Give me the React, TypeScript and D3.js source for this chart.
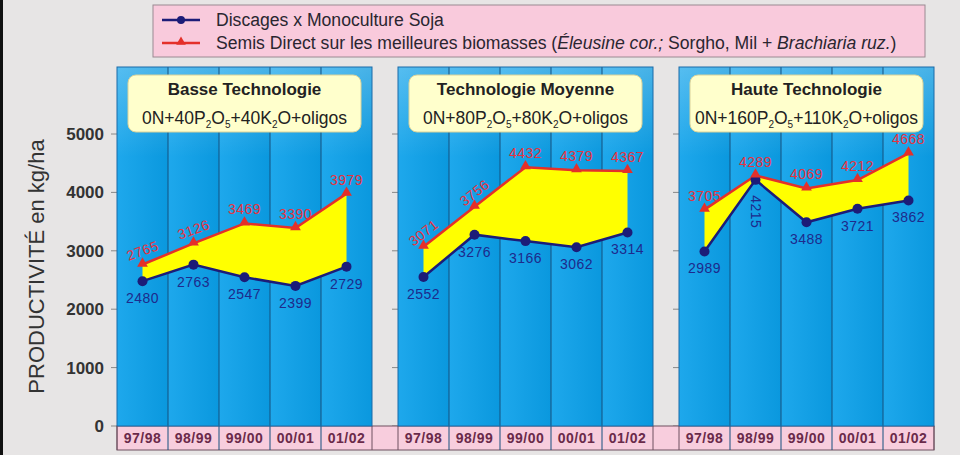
import React from "react";
import * as d3 from "d3";

// ---------- data ----------
const periods = ["97/98", "98/99", "99/00", "00/01", "01/02"];
const panelTitles = ["Basse Technologie", "Technologie Moyenne", "Haute Technologie"];
const pDoses = ["40", "80", "160"];
const kDoses = ["40", "80", "110"];
const discagesSoja = [
  [2480, 2763, 2547, 2399, 2729],
  [2552, 3276, 3166, 3062, 3314],
  [2989, 4215, 3488, 3721, 3862],
];
const semisDirect = [
  [2765, 3126, 3469, 3390, 3979],
  [3071, 3756, 4432, 4379, 4367],
  [3705, 4289, 4069, 4212, 4668],
];
const yTicks = [0, 1000, 2000, 3000, 4000, 5000];
const legendLabels = ["Discages x Monoculture Soja"];

// label rotation styles (degrees) per panel / point
const redRot = [
  [-20, -20, 0, 0, 0],
  [-38, -38, 0, 0, 0],
  [0, 0, 0, 0, 0],
];
const blueRot = [
  [0, 0, 0, 0, 0],
  [0, 0, 0, 0, 0],
  [0, 90, 0, 0, 0],
];

const FONT = "'Liberation Sans', Arial, Helvetica, sans-serif";
const W = 960;
const H = 455;
const PANEL_TOP = 67;
const STRIP_H = 24;

export default function App() {
  const y = d3.scaleLinear().domain([0, 5000]).range([426, 134]);
  const panelScale = d3
    .scaleBand<number>()
    .domain([0, 1, 2])
    .range([117, 934])
    .paddingInner(26 / 281)
    .paddingOuter(0);
  const pw = panelScale.bandwidth();
  const y0 = y(0);

  const blueCol = "#1c1c78";
  const redCol = "#e4302a";

  return (
    <svg
      width={W}
      height={H}
      viewBox={`0 0 ${W} ${H}`}
      style={{ position: "absolute", left: 0, top: 0, fontFamily: FONT }}
    >
      <defs>
        <linearGradient id="colGrad" x1="0" x2="1" y1="0" y2="0">
          <stop offset="0%" stopColor="#1ea8ec" />
          <stop offset="100%" stopColor="#0a98de" />
        </linearGradient>
        <linearGradient id="topGrad" x1="0" x2="0" y1="0" y2="1">
          <stop offset="0%" stopColor="#ffffff" stopOpacity={0.25} />
          <stop offset="100%" stopColor="#ffffff" stopOpacity={0} />
        </linearGradient>
      </defs>
      <rect x={0} y={0} width={W} height={H} fill="#e7e5e5" />
      <rect x={0} y={0} width={3} height={H} fill="#111" />

      {/* legend */}
      <rect x={153} y={5} width={772} height={52} fill="#f9cadc" stroke="#9a8a92" strokeWidth={1} />
      <line x1={162} x2={200} y1={20} y2={20} stroke={blueCol} strokeWidth={2.5} />
      <circle cx={181} cy={20} r={4} fill={blueCol} />
      <line x1={162} x2={200} y1={43} y2={43} stroke={redCol} strokeWidth={2.5} />
      <path d={d3.symbol(d3.symbolTriangle, 40)() || ""} transform="translate(181,42)" fill={redCol} />
      <text x={216} y={26} fontSize={17.6} fill="#2a2630">
        {legendLabels[0]}
      </text>
      <text x={216} y={49} fontSize={17.6} fill="#2a2630">
        Semis Direct sur les meilleures biomasses (
        <tspan fontStyle="italic">Éleusine cor.;</tspan> Sorgho, Mil +{" "}
        <tspan fontStyle="italic">Brachiaria ruz.</tspan>)
      </text>

      {/* y axis title */}
      <text
        transform={`translate(44,${(130 + 403) / 2}) rotate(-90)`}
        textAnchor="middle"
        fontSize={22}
        fill="#333"
      >
        PRODUCTIVITÉ en kg/ha
      </text>

      {/* y ticks */}
      {yTicks.map((t) => (
        <g key={t}>
          <text x={104} y={y(t) + 6} textAnchor="end" fontSize={17} fontWeight="bold" fill="#333">
            {t}
          </text>
          {[0, 1, 2].map((i) => (
            <line
              key={i}
              x1={(panelScale(i) as number) - 6}
              x2={panelScale(i) as number}
              y1={y(t)}
              y2={y(t)}
              stroke="#888"
              strokeWidth={1}
            />
          ))}
        </g>
      ))}

      {/* x strip */}
      <rect x={117} y={y0} width={934 - 117} height={STRIP_H} fill="#f8cddd" stroke="#6e5060" strokeWidth={1} />

      {[0, 1, 2].map((pi) => {
        const left = panelScale(pi) as number;
        const x = d3.scaleBand<string>().domain(periods).range([left, left + pw]);
        const cx = (p: string) => (x(p) as number) + x.bandwidth() / 2;
        const blue = discagesSoja[pi];
        const red = semisDirect[pi];
        const area = d3
          .area<number>()
          .x((_, i) => cx(periods[i]))
          .y0((_, i) => y(blue[i]))
          .y1((_, i) => y(red[i]));
        const line = (vals: number[]) =>
          d3
            .line<number>()
            .x((_, i) => cx(periods[i]))
            .y((v) => y(v))(vals) || "";
        const boxX = left + 11;
        const boxW = pw - 22;
        return (
          <g key={pi}>
            {/* panel background columns */}
            {periods.map((p) => (
              <g key={p}>
                <rect x={x(p)} y={PANEL_TOP} width={x.bandwidth()} height={y0 - PANEL_TOP} fill="url(#colGrad)" />
              </g>
            ))}
            <rect x={left} y={PANEL_TOP} width={pw} height={90} fill="url(#topGrad)" />
            {periods.slice(1).map((p) => (
              <line
                key={p}
                x1={x(p)}
                x2={x(p)}
                y1={PANEL_TOP}
                y2={y0 + STRIP_H}
                stroke="#15507e"
                strokeWidth={1}
              />
            ))}
            <rect x={left} y={PANEL_TOP} width={pw} height={y0 - PANEL_TOP} fill="none" stroke="#1a6aa8" strokeWidth={1} />

            {/* strip separators & labels */}
            <line x1={left} x2={left} y1={y0} y2={y0 + STRIP_H} stroke="#6e5060" />
            <line x1={left + pw} x2={left + pw} y1={y0} y2={y0 + STRIP_H} stroke="#6e5060" />
            {periods.map((p) => (
              <text
                key={p}
                x={cx(p)}
                y={y0 + 17}
                textAnchor="middle"
                fontSize={14}
                fontWeight="bold"
                letterSpacing={0.5}
                fill="#6a2a4a"
              >
                {p}
              </text>
            ))}

            {/* title box */}
            <rect x={boxX} y={75} width={boxW} height={57} rx={8} fill="#ffffcc" stroke="#d9d29a" strokeWidth={1} />
            <text x={boxX + boxW / 2} y={95} textAnchor="middle" fontSize={17} fontWeight="bold" fill="#222">
              {panelTitles[pi]}
            </text>
            <text x={boxX + boxW / 2} y={124} textAnchor="middle" fontSize={17.5} fill="#222">
              0N+{pDoses[pi]}P<tspan fontSize={10} dy={4}>2</tspan>
              <tspan dy={-4}>O</tspan>
              <tspan fontSize={10} dy={4}>5</tspan>
              <tspan dy={-4}>+{kDoses[pi]}K</tspan>
              <tspan fontSize={10} dy={4}>2</tspan>
              <tspan dy={-4}>O+oligos</tspan>
            </text>

            {/* area between */}
            <path d={area(blue) || ""} fill="#ffff00" />
            <path d={line(blue)} fill="none" stroke={blueCol} strokeWidth={2.5} />
            <path d={line(red)} fill="none" stroke={redCol} strokeWidth={2.5} />
            {blue.map((v, i) => (
              <circle key={i} cx={cx(periods[i])} cy={y(v)} r={5} fill={blueCol} />
            ))}
            {red.map((v, i) => (
              <path
                key={i}
                d={d3.symbol(d3.symbolTriangle, 50)() || ""}
                transform={`translate(${cx(periods[i])},${y(v) - 1})`}
                fill={redCol}
              />
            ))}
            {red.map((v, i) => {
              const px = cx(periods[i]);
              const py = y(v) - 14;
              return (
                <text
                  key={i}
                  transform={`translate(${px},${py}) rotate(${redRot[pi][i]})`}
                  textAnchor="middle"
                  dy={5}
                  fontSize={14}
                  letterSpacing={0.5}
                  fill="#e8323e"
                >
                  {v}
                </text>
              );
            })}
            {blue.map((v, i) => {
              const px = cx(periods[i]);
              const rot = blueRot[pi][i];
              const py = y(v) + (rot ? 32 : 17);
              return (
                <text
                  key={i}
                  transform={`translate(${px},${py}) rotate(${rot})`}
                  textAnchor="middle"
                  dy={5}
                  fontSize={14}
                  letterSpacing={0.5}
                  fill="#1e2a8c"
                >
                  {v}
                </text>
              );
            })}
          </g>
        );
      })}
    </svg>
  );
}
